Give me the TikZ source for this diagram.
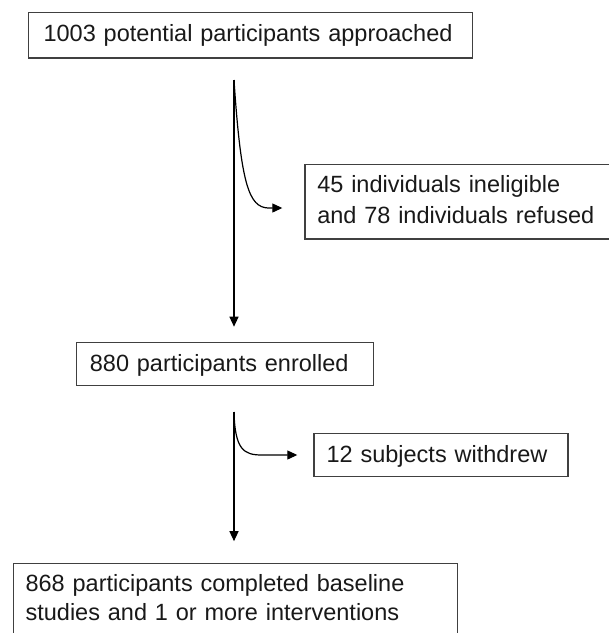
\documentclass[tikz,border=0pt]{standalone}
\usepackage{fontspec}
\setmainfont{Liberation Sans}
\usetikzlibrary{arrows.meta}
\begin{document}
\begin{tikzpicture}[x=1pt,y=-1pt,
  box/.style={draw=black!75, line width=1.2pt, anchor=north west, align=left,
    inner ysep=0pt, text=black!90,
    font=\fontsize{23.5pt}{31pt}\selectfont},
  arr/.style={draw=black, line width=1.2pt, -{Triangle[length=10pt,width=9pt]}}]
\useasboundingbox (0,0) rectangle (609,633);
\clip (0,0) rectangle (609,633);
\fill[white] (0,0) rectangle (609,633);

\node[box, inner xsep=15pt, text width=414pt, text height=29.3pt, text depth=16.3pt]
  (b1) at (28,11.7) {1003 potential participants approached};
\node[box, inner xsep=12.4pt, text width=320pt, text height=27.7pt, text depth=46.6pt]
  (bx) at (304.3,164) {45 individuals ineligible\\and 78 individuals refused};
\node[box, inner xsep=13.3pt, text width=270.1pt, text height=29pt, text depth=14.3pt]
  (b2) at (76,341.7) {880 participants enrolled};
\node[box, inner xsep=12.7pt, text width=228.6pt, text height=29pt, text depth=14.3pt]
  (bw) at (313.3,432.7) {12 subjects withdrew};
\node[box, inner xsep=12.3pt, text width=419.4pt, text height=28pt, text depth=48pt,
  font=\fontsize{23.5pt}{29.5pt}\selectfont]
  (b3) at (12.7,562.7) {868 participants completed baseline\\studies and 1 or more interventions};

\coordinate (s1) at (234,80);
\coordinate (s2) at (234,412);

\draw[arr, shorten >=15pt] (s1) -- (b2.north -| s1);
\draw[arr, shorten >=22pt] (s1) .. controls (241,185) and (249,207) .. (268,208) -- (bx.west |- 0,208);

\draw[arr, shorten >=21.5pt] (s2) -- (b3.north -| s2);
\draw[arr, shorten >=16pt] (s2) .. controls (235,450) and (244,455) .. (262,455) -- (bw.west |- 0,455);
\end{tikzpicture}
\end{document}
